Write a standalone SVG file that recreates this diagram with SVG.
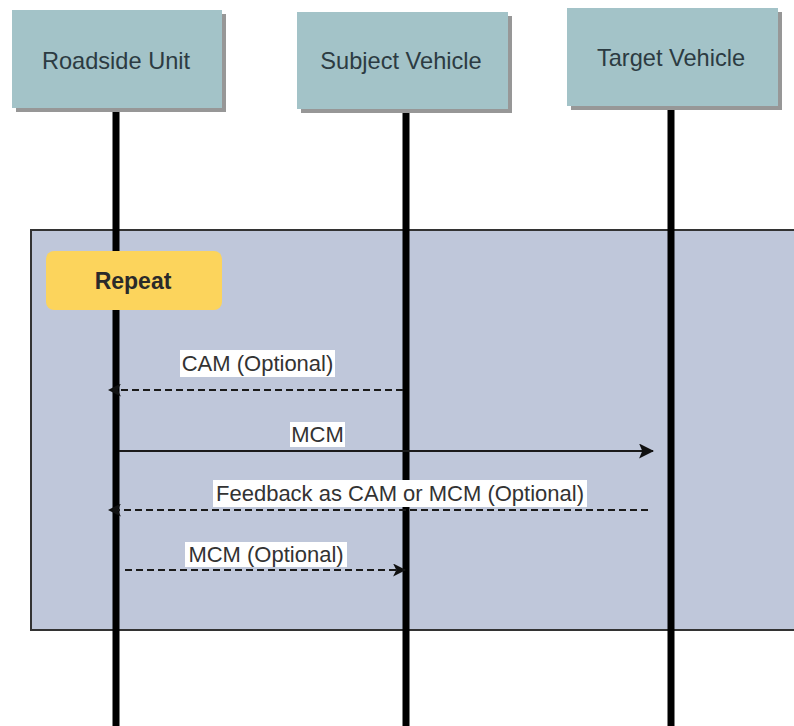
<svg xmlns="http://www.w3.org/2000/svg" width="794" height="726" viewBox="0 0 794 726">
<style>
.hdr{fill:#a3c3c8;}
.shd{fill:#979797;}
.htxt{font-family:"Liberation Sans",Arial,sans-serif;font-size:23.6px;fill:#2c3b42;text-anchor:middle;}
.life{stroke:#000;stroke-width:7;}
.msg{stroke:#1a1a1a;stroke-width:2;fill:none;}
.dash{stroke-dasharray:7 4;}
.lbl{fill:#fff;}
.ltxt{font-family:"Liberation Sans",Arial,sans-serif;font-size:22px;fill:#333;text-anchor:middle;}
</style>
<defs>
<marker id="ah" viewBox="0 0 12 12" refX="11" refY="6" markerWidth="13" markerHeight="13" markerUnits="userSpaceOnUse" orient="auto">
<path d="M0,0 L12,6 L0,12 L3,6 Z" fill="#111"/>
</marker>
<marker id="ahL" viewBox="0 0 14 14" refX="13" refY="7" markerWidth="15" markerHeight="15" markerUnits="userSpaceOnUse" orient="auto">
<path d="M0,0 L14,7 L0,14 L3,7 Z" fill="#111"/>
</marker>
</defs>
<rect width="794" height="726" fill="#fff"/>
<g id="frame">
<rect x="31" y="230" width="770" height="400" fill="#bfc7da" stroke="#333" stroke-width="2"/>
</g>
<g id="lifelines">
<line class="life" x1="116" y1="108" x2="116" y2="726"/>
<line class="life" x1="406" y1="108" x2="406" y2="726"/>
<line class="life" x1="671" y1="106" x2="671" y2="726"/>
</g>
<g id="roadside-unit">
<rect class="shd" x="16" y="14" width="210" height="98"/>
<rect class="hdr" x="12" y="10" width="210" height="98"/>
<text class="htxt" x="116" y="69">Roadside Unit</text>
</g>
<g id="subject-vehicle">
<rect class="shd" x="301" y="16" width="211" height="97"/>
<rect class="hdr" x="297" y="12" width="211" height="97"/>
<text class="htxt" x="401" y="69">Subject Vehicle</text>
</g>
<g id="target-vehicle">
<rect class="shd" x="571" y="12" width="211" height="98"/>
<rect class="hdr" x="567" y="8" width="211" height="98"/>
<text class="htxt" x="671" y="66">Target Vehicle</text>
</g>
<g id="repeat">
<rect x="46" y="251" width="176" height="59" rx="8" fill="#fcd45c"/>
<text x="133" y="289" font-family="Liberation Sans, Arial, sans-serif" font-size="23" font-weight="bold" fill="#2a2a2a" text-anchor="middle">Repeat</text>
</g>
<g id="connectors">
<line class="msg dash" x1="403" y1="390" x2="109" y2="390" marker-end="url(#ah)"/>
<line class="msg" x1="119" y1="451" x2="653" y2="451" marker-end="url(#ahL)"/>
<line class="msg dash" x1="648" y1="510" x2="109" y2="510" marker-end="url(#ah)"/>
<line class="msg dash" x1="125" y1="570" x2="405" y2="570" marker-end="url(#ah)"/>
</g>
<g id="labels">
<rect class="lbl" x="180" y="350" width="155" height="27"/>
<text class="ltxt" x="257.5" y="371">CAM (Optional)</text>
<rect class="lbl" x="290" y="422" width="55" height="25"/>
<text class="ltxt" x="317.5" y="442">MCM</text>
<rect class="lbl" x="213" y="480" width="374" height="27"/>
<text class="ltxt" x="400" y="501">Feedback as CAM or MCM (Optional)</text>
<rect class="lbl" x="185" y="542" width="162" height="25"/>
<text class="ltxt" x="266" y="562">MCM (Optional)</text>
</g>
</svg>
